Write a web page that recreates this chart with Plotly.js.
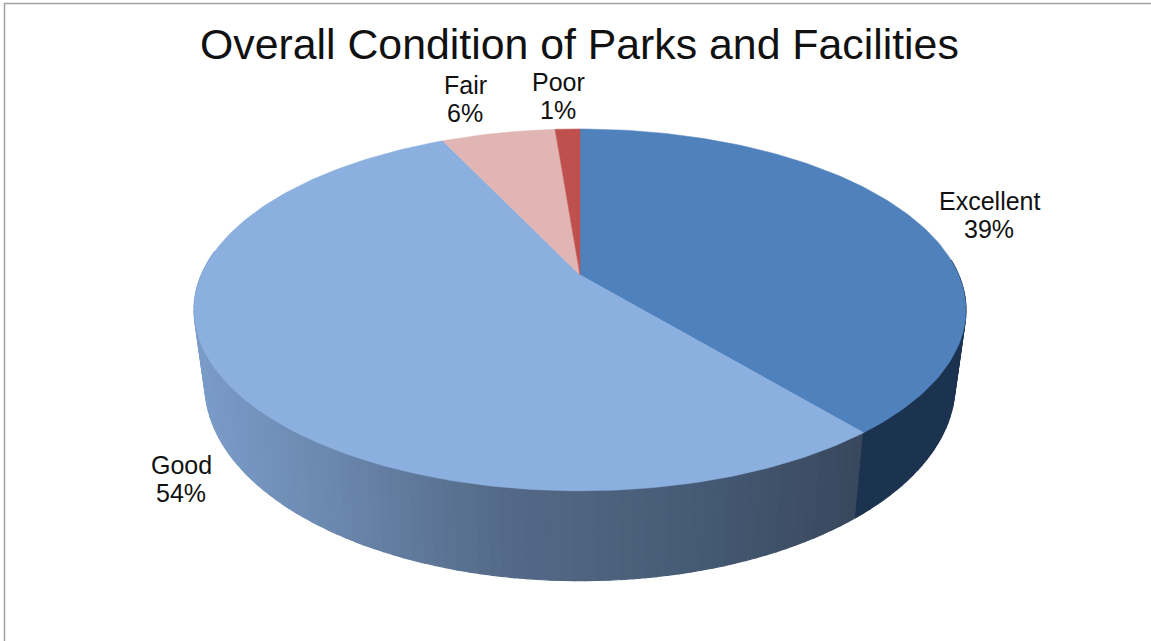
<!DOCTYPE html>
<html>
<head>
<meta charset="utf-8">
<script src="https://cdn.plot.ly/plotly-3.0.1.min.js"></script>
<style>html,body{margin:0;padding:0;background:#fff;overflow:hidden}</style>
</head>
<body>
<div id="chart" style="width:1151px;height:641px"></div>
<script>
// Chart data
const categories = ['Excellent', 'Good', 'Fair', 'Poor'];
const values = [39, 54, 5.75, 1.25];
const topColors = ['#4f81bd', '#8bafde', '#e1b5b3', '#c0504d'];
const chartTitle = 'Overall Condition of Parks and Facilities';

// Label placement and styling
const labelX = [989, 181, 465, 558];
const labelY = [201, 465, 85, 82];
const lineGap = 28;
const labelSize = 25;

// Perspective model of the tilted disc
const cx = 580, k = 0.193;
const topRing = {y0: 275, A: 378.7, B: 174.2};
const bottomRing = {y0: 347, A: 368, B: 188.6};
function project(ring, deg) {
  const t = deg * Math.PI / 180, u = Math.sin(t), v = Math.cos(t), w = 1 + k * v;
  return [cx + ring.A * u / w, ring.y0 - ring.B * v / w];
}

// Gradient of the front wall of "Good", by screen x
const wallStops = [[195,[124,158,203]],[340,[106,135,173]],[500,[84,106,136]],[700,[69,90,116]],[860,[56,71,92]]];
function wallColor(x) {
  let i = 0;
  while (i < wallStops.length - 2 && x > wallStops[i + 1][0]) i++;
  const a = wallStops[i], b = wallStops[i + 1];
  const f = Math.min(1, Math.max(0, (x - a[0]) / (b[0] - a[0])));
  const c = a[1].map((p, j) => Math.round(p + (b[1][j] - p) * f));
  return 'rgb(' + c.join(',') + ')';
}

const total = values.reduce((s, v) => s + v, 0);
const starts = [];
values.reduce((s, v, i) => { starts[i] = s; return s + v; }, 0);
const angle = pct => pct / total * 360;

const traces = [];
function addPoly(pts, color, width) {
  traces.push({
    type: 'scatter', mode: 'lines', x: pts.map(p => p[0]), y: pts.map(p => p[1]),
    fill: 'toself', fillcolor: color, line: {color: color, width: width},
    hoverinfo: 'skip', showlegend: false
  });
}
// Side wall between two angles, painted from a1 back to a0 so each strip overlaps the last
function wall(a0, a1, colorFn, stepDeg) {
  const n = Math.ceil((a1 - a0) / stepDeg);
  for (let s = n - 1; s >= 0; s--) {
    const p = a0 + (a1 - a0) * s / n, q = a0 + (a1 - a0) * (s + 1) / n;
    const pts = [project(topRing, p), project(topRing, q), project(bottomRing, q), project(bottomRing, p)];
    pts.push(pts[0]);
    addPoly(pts, colorFn((pts[2][0] + pts[3][0]) / 2), 1.2);
  }
}

const boundary = angle(values[0]);
wall(boundary, 278, wallColor, 1.5);
wall(85, boundary, () => '#1c3350', 1.5);

// Top faces
values.forEach((v, i) => {
  const a0 = angle(starts[i]), a1 = angle(starts[i] + v);
  const pts = [[cx, topRing.y0]];
  const n = Math.max(4, Math.ceil(a1 - a0));
  for (let s = 0; s <= n; s++) pts.push(project(topRing, a0 + (a1 - a0) * s / n));
  pts.push([cx, topRing.y0]);
  addPoly(pts, topColors[i], 0.5);
});

// Labels
const annotations = [];
categories.forEach((c, i) => {
  const font = {family: 'Liberation Sans, Arial, sans-serif', size: labelSize, color: '#111'};
  annotations.push({x: labelX[i], y: labelY[i], text: c, showarrow: false, xanchor: 'center', yanchor: 'middle', font});
  annotations.push({x: labelX[i], y: labelY[i] + lineGap, text: Math.round(values[i]) + '%', showarrow: false, xanchor: 'center', yanchor: 'middle', font});
});
annotations.push({x: 579, y: 44, text: chartTitle, showarrow: false, xanchor: 'center', yanchor: 'middle',
  font: {family: 'Liberation Sans, Arial, sans-serif', size: 42.8, color: '#111'}});

const hidden = {visible: false, fixedrange: true, showgrid: false, zeroline: false};
const layout = {
  width: 1151, height: 641, margin: {l: 0, r: 0, t: 0, b: 0},
  paper_bgcolor: '#ffffff', plot_bgcolor: '#ffffff', showlegend: false,
  xaxis: Object.assign({range: [0, 1151]}, hidden),
  yaxis: Object.assign({range: [641, 0]}, hidden),
  annotations,
  shapes: [
    {type: 'line', x0: 4.5, x1: 4.5, y0: 3, y1: 641, line: {color: '#a0a0a0', width: 1.5}},
    {type: 'line', x0: 4, x1: 1151, y0: 3.5, y1: 3.5, line: {color: '#a0a0a0', width: 1.5}}
  ]
};
Plotly.newPlot('chart', traces, layout, {displayModeBar: false, staticPlot: true});
</script>
</body>
</html>
